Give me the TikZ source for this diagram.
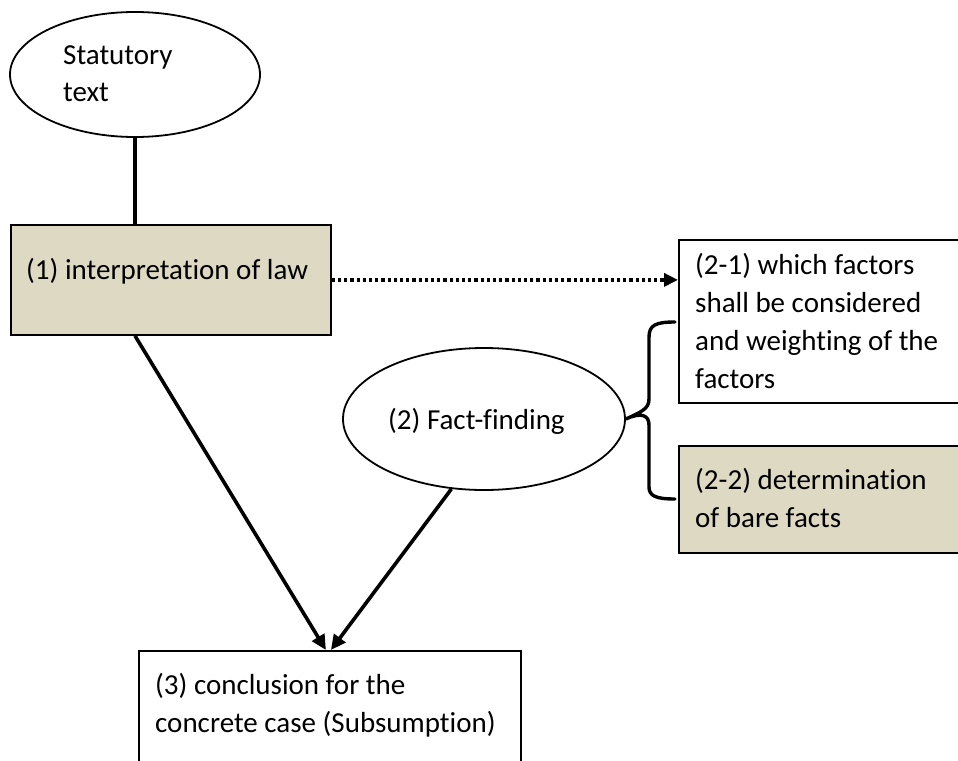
\documentclass[tikz,border=0pt]{standalone}
\usepackage{fontspec}
\setmainfont[Ligatures=CommonOff]{Carlito}
\usetikzlibrary{shapes.geometric,arrows.meta}
\definecolor{tan}{RGB}{221,217,195}
\tikzset{
  shapebox/.style={draw=black,line width=1.8pt,rectangle,anchor=north west,inner sep=0pt},
  oval/.style={draw=black,line width=1.8pt,ellipse,inner sep=0pt},
  txt/.style={anchor=base west,inner sep=0pt,font=\fontsize{29}{38}\selectfont},
  conn/.style={line width=3.8pt},
  arr/.style={line width=3.6pt,-{Triangle[length=15pt,width=14pt]}},
  dotarr/.style={line width=3.6pt,dash pattern=on 3.2pt off 3pt,-{Triangle[length=14pt,width=13pt]}},
  bracepath/.style={line width=3.4pt,line cap=round}
}
\begin{document}
\begin{tikzpicture}[x=1pt,y=-1pt]
\useasboundingbox (0,0) rectangle (958,760);
\clip (0,0) rectangle (958,760);
\fill[white] (0,0) rectangle (958,760);
% shapes
\node[oval,minimum width=250pt,minimum height=125pt] (st) at (135,74.5) {};
\node[shapebox,fill=tan,minimum width=320pt,minimum height=110pt] (b1) at (10,224) {};
\node[shapebox,minimum width=300pt,minimum height=163pt] (b21) at (678,239) {};
\node[shapebox,fill=tan,minimum width=300pt,minimum height=107pt] (b22) at (678,445) {};
\node[oval,minimum width=282pt,minimum height=142pt] (ff) at (484,419) {};
\node[shapebox,minimum width=382pt,minimum height=130pt] (c3) at (138,650) {};
% texts
\node[txt] (tst1) at (63,64) {Statutory};
\node[txt] (tst2) at (63,101) {text};
\node[txt] (tb1) at (26,279) {(1) interpretation of law};
\node[txt] (tb21a) at (695,274) {(2-1) which factors};
\node[txt] (tb21b) at (695,312) {shall be considered};
\node[txt] (tb21c) at (695,350) {and weighting of the};
\node[txt] (tb21d) at (695,388) {factors};
\node[txt] (tb22a) at (695,489) {(2-2) determination};
\node[txt] (tb22b) at (695,527) {of bare facts};
\node[txt] (tff) at (388,429) {(2) Fact-finding};
\node[txt] (tc3a) at (155,694) {(3) conclusion for the};
\node[txt] (tc3b) at (155,732) {concrete case (Subsumption)};
% connectors
\coordinate (b1top) at (st.south |- b1.north);
\coordinate (b1bot) at (st.south |- b1.south);
\draw[conn] (st.south) -- (b1top);
\draw[dotarr] (b1.east) -- (b21.west |- b1.east);
\draw[arr] (b1bot) -- ([xshift=-4pt]c3.north);
\draw[arr] (ff.245) -- ([xshift=1pt]c3.north);
% brace
\coordinate (brtop) at (675,322);
\coordinate (brbot) at (675,499);
\coordinate (brtip) at (ff.east);
\draw[bracepath] (brtop) .. controls (656,322) and (649,325) .. (649,337) -- (649,399)
  .. controls (649,409) and (641,412) .. (brtip)
  .. controls (641,412) and (649,415) .. (649,425) -- (649,487)
  .. controls (649,496) and (656,499) .. (brbot);
\end{tikzpicture}
\end{document}
